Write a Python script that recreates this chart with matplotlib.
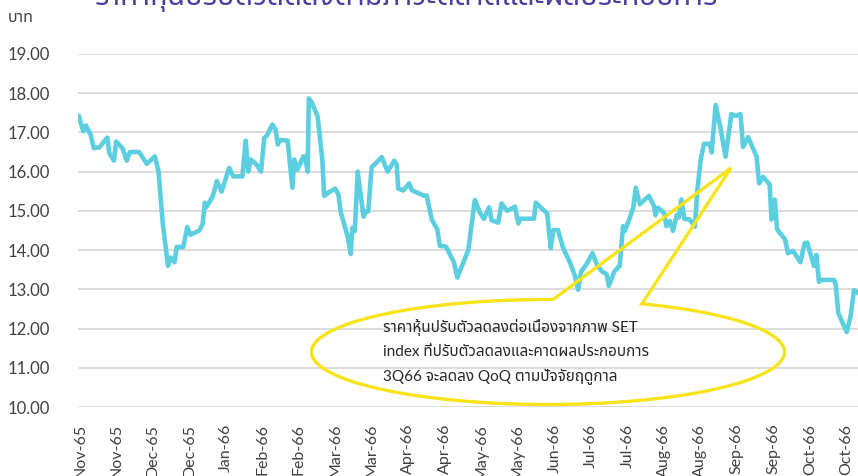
import matplotlib
matplotlib.use('Agg')
import matplotlib.pyplot as plt
from matplotlib import font_manager
from matplotlib.ft2font import FT2Font
from matplotlib.path import Path
from matplotlib.patches import PathPatch
import numpy as np

# ---------------- data ----------------
days = [-0.3, 0.9, 1.6, 2.9, 3.8, 5.3, 7.5, 8.0, 9.3, 9.9, 11.7, 12.8, 13.7, 16.2, 18.3,
        20.5, 21.5, 22.7, 24.1, 24.8, 25.9, 26.5, 28.3, 29.4, 30.3, 32.7, 33.6, 34.2, 34.7,
        36.4, 37.5, 38.8, 40.9, 42.0, 44.5, 45.4, 46.1, 46.8, 48.4, 49.6, 50.5, 51.2, 52.7,
        53.6, 54.2, 54.8, 56.9, 58.2, 58.7, 59.6, 61.2, 61.6, 62.4, 62.7, 63.6, 65.1, 66.4,
        66.9, 68.0, 69.9, 70.8, 71.5, 73.3, 74.2, 74.6, 75.3, 76.1, 77.7, 78.3, 79.0, 79.9,
        82.7, 84.3, 86.1, 86.8, 87.2, 88.6, 90.2, 90.9, 94.2, 95.0, 96.4, 97.9, 98.6, 100.3,
        102.5, 103.4, 106.4, 108.2, 109.6, 110.7, 112.1, 112.8, 114.6, 115.5, 117.1, 119.2,
        120.1, 120.7, 124.4, 124.9, 126.8, 128.0, 129.0, 129.7, 131.0, 132.4, 134.2, 135.6,
        136.5, 137.3, 138.8, 140.4, 141.8, 143.1, 144.3, 144.9, 146.4, 147.9, 148.8, 149.3,
        150.7, 151.6, 152.3, 153.4, 155.9, 157.3, 157.7, 158.4, 160.1, 160.7, 161.6, 162.5,
        163.5, 164.1, 164.8, 165.6, 167.1, 168.5, 169.2, 170.1, 171.0, 172.6, 173.1, 174.2,
        175.6, 176.9, 178.5, 179.7, 181.0, 181.7, 183.1, 185.4, 186.1, 187.2, 189.0, 189.5,
        190.4, 191.0, 191.3, 193.2, 194.0, 195.4, 197.4, 198.6, 199.3, 201.1, 201.8, 202.5,
        203.2, 206.6, 207.1, 207.8, 210.1, 211.2, 212.1, 213.4]
price = [17.41, 17.03, 17.18, 16.94, 16.60, 16.62, 16.87, 16.48, 16.28, 16.77, 16.59, 16.28,
         16.50, 16.50, 16.20, 16.39, 16.01, 14.66, 13.60, 13.81, 13.69, 14.08, 14.08, 14.59,
         14.39, 14.50, 14.66, 15.21, 15.10, 15.38, 15.76, 15.49, 16.10, 15.88, 15.88, 16.79,
         16.00, 16.31, 16.18, 16.00, 16.86, 16.92, 17.20, 17.07, 16.69, 16.81, 16.79, 15.59,
         16.31, 16.05, 16.39, 16.39, 16.00, 17.87, 17.75, 17.41, 16.31, 15.38, 15.46, 15.57,
         15.42, 14.95, 14.36, 13.90, 14.57, 14.49, 16.00, 14.85, 14.99, 14.99, 16.11, 16.37,
         16.00, 16.28, 16.18, 15.57, 15.52, 15.70, 15.53, 15.39, 15.39, 14.78, 14.53, 14.11,
         14.09, 13.68, 13.30, 14.00, 15.28, 14.95, 14.80, 15.09, 14.76, 14.70, 15.19, 15.00,
         15.11, 14.68, 14.80, 14.80, 15.21, 15.04, 14.94, 14.05, 14.51, 14.51, 14.05, 13.70,
         13.35, 12.99, 13.45, 13.64, 13.92, 13.60, 13.45, 13.39, 13.09, 13.45, 13.60, 14.61,
         14.49, 14.83, 15.08, 15.59, 15.17, 15.38, 15.12, 14.89, 15.08, 14.94, 14.61, 14.74,
         14.49, 14.89, 14.83, 15.29, 14.80, 14.78, 14.60, 15.55, 16.31, 16.71, 16.71, 16.49,
         17.70, 17.07, 16.38, 17.47, 17.42, 17.47, 16.63, 16.88, 16.39, 15.70, 15.87, 15.67,
         14.78, 15.29, 14.55, 14.49, 14.28, 13.92, 13.98, 13.69, 14.18, 14.19, 13.60, 13.88,
         13.19, 13.24, 13.24, 13.13, 12.40, 11.91, 12.33, 12.98, 12.89]

tick_labels = ['Nov-65', 'Nov-65', 'Dec-65', 'Dec-65', 'Jan-66', 'Feb-66', 'Feb-66',
               'Mar-66', 'Mar-66', 'Apr-66', 'Apr-66', 'May-66', 'May-66', 'Jun-66',
               'Jul-66', 'Jul-66', 'Aug-66', 'Aug-66', 'Sep-66', 'Sep-66', 'Oct-66', 'Oct-66']
tick_step = 10
y_ticks = [10, 11, 12, 13, 14, 15, 16, 17, 18, 19]

y_unit = 'บาท'
title_text = 'ราคาหุ้นปรับตัวลดลงตามภาวะตลาดและผลประกอบการ'
note_lines = ['ราคาหุ้นปรับตัวลดลงต่อเนื่องจากภาพ SET',
              'index ที่ปรับตัวลดลงและคาดผลประกอบการ',
              '3Q66 จะลดลง QoQ ตามปัจจัยฤดูกาล']

# ---------------- fonts ----------------
def find_thai_family():
    found = []
    for f in font_manager.fontManager.ttflist:
        try:
            cm = FT2Font(f.fname).get_charmap()
        except Exception:
            continue
        if 0x0E01 in cm and 0x0E32 in cm:
            found.append(f.name)
    for pref in ['Noto Sans Thai', 'Noto Sans Thai UI', 'Loma', 'Garuda', 'Norasi']:
        if pref in found:
            return pref
    for n in found:
        if 'Looped' not in n:
            return n
    return found[0] if found else 'DejaVu Sans'

thai = find_thai_family()
plt.rcParams['font.family'] = ['Lato', thai, 'DejaVu Sans']

# ---------------- figure ----------------
W, H = 858, 476
fig = plt.figure(figsize=(W / 100, H / 100), dpi=100)
ax = fig.add_axes([78 / W, 69 / H, 780 / W, 353 / H])

ax.plot(days, price, color='#5BCFDF', lw=3.3, solid_joinstyle='round', zorder=3)

ax.set_ylim(10, 19)
ax.set_xlim(-0.55, 213.2)
ax.set_yticks(y_ticks)
ax.set_yticklabels([f'{v:.2f}' for v in y_ticks])
ax.set_xticks([i * tick_step for i in range(len(tick_labels))])
ax.set_xticklabels(tick_labels, rotation=90, va='top', ha='center')
ax.tick_params(axis='y', length=0, pad=20, labelsize=12, labelcolor='#404040')
ax.tick_params(axis='x', length=0, pad=12, labelsize=11.5, labelcolor='#404040')
ax.grid(axis='y', color='#D9D9D9', lw=1.3, zorder=0)
ax.grid(axis='x', visible=False)
for s in ax.spines.values():
    s.set_visible(False)

fig.text(8 / W, 1 - 18 / H, y_unit, fontsize=11.5, color='#404040', va='center', ha='left')
fig.text(95 / W, 1 - 5 / H, title_text, fontsize=21, fontweight='bold',
         color='#503CA0', va='baseline', ha='left')

# ---------------- callout ----------------
cx, cy = (548 - 78) / 780, (407 - 352) / 353
rx, ry = 236.5 / 780, 52.5 / 353
tip = ((731 - 78) / 780, (407 - 168) / 353)
a0, a1 = np.deg2rad(88.8), np.deg2rad(66.6 + 360)
th = np.linspace(a0, a1, 300)
pts = [(cx + rx * np.cos(t), cy + ry * np.sin(t)) for t in th]
pts.append(tip)
pts.append(pts[0])
path = Path(pts)
ax.add_patch(PathPatch(path, transform=ax.transAxes, facecolor='none',
                       edgecolor='#F7E31A', lw=2.4, joinstyle='miter', zorder=5, clip_on=False))

for i, line in enumerate(note_lines):
    ax.text((383 - 78) / 780, (407 - (327 + 25 * i)) / 353, line, transform=ax.transAxes,
            fontsize=11, color='#262626', va='center', ha='left', zorder=6)

fig.savefig('out.png', dpi=100)
